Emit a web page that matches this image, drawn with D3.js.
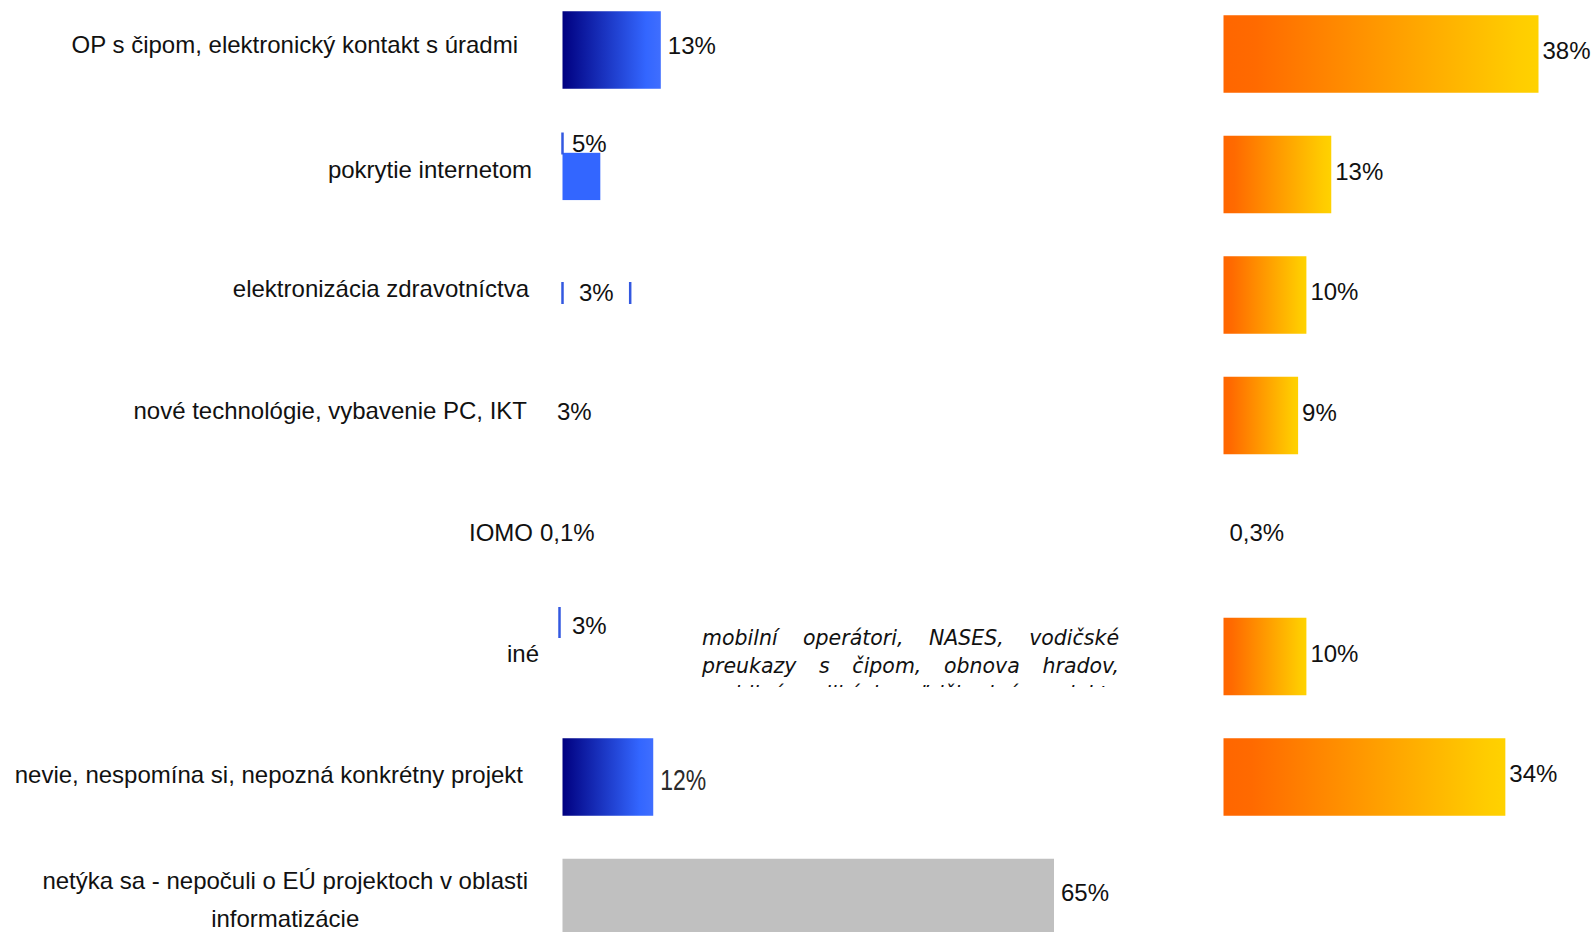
<!DOCTYPE html>
<head>
    <meta charset="utf-8">
    <script src="https://d3js.org/d3.v7.min.js"></script>
    <style>
      body { margin: 0; background: white; }
      text {
        font-family: "Liberation Sans", Arial, sans-serif;
        fill: #111;
      }
      .catlabel { font-size: 24px; }
      .vallabel { font-size: 24px; }
      .note {
        font-family: "DejaVu Sans", sans-serif;
        font-style: italic;
        font-size: 20.5px;
      }
    </style>
<body>
    <script>
        // data
        var categories = [
          "OP s čipom, elektronický kontakt s úradmi",
          "pokrytie internetom",
          "elektronizácia zdravotníctva",
          "nové technológie, vybavenie PC, IKT",
          "IOMO",
          "iné",
          "nevie, nespomína si, nepozná konkrétny projekt",
          "netýka sa - nepočuli o EÚ projektoch v oblasti\ninformatizácie"
        ]
        var valuesBlue = [13, 5, 3, 3, 0.1, 3, 12, 65]
        var labelsBlue = ["13%", "5%", "3%", "3%", "0,1%", "3%", "12%", "65%"]
        var valuesOrange = [38, 13, 10, 9, 0.3, 10, 34, null]
        var labelsOrange = ["38%", "13%", "10%", "9%", "0,3%", "10%", "34%", ""]
        var noteLines = [
          "mobilní operátori, NASES, vodičské",
          "preukazy s čipom, obnova hradov,",
          "mobilné aplikácie, ďalšie iné projekty"
        ]

        // layout of the left column, row by row (how the source slide renders it)
        var leftLayout = [
          {bar: "grad", by: -4, lx: "end", ly: -8, nx: -12, ny: -9},
          {bar: "part", lx: 9.5, ly: -31, ticks: "left", t0: -11, t1: 11, nx: 2, ny: -5},
          {bar: null, lx: 16.5, ly: -2, ticks: "both", t0: -11, t1: 11, nx: -1, ny: -6},
          {bar: null, lx: -5.5, ly: -3.5, nx: -3, ny: -4.5},
          {bar: null, lx: -22.5, ly: -3, nx: 3, ny: -3},
          {bar: null, lx: 9.5, ly: -30.5, ticks: "left", tx: -3, t0: -19, t1: 12, nx: 9, ny: -2.5},
          {bar: "grad", lx: "end", ly: 2, raster: true, nx: -7, ny: -2},
          {bar: "gray", lx: "end", ly: -5, nx: -2, ny: -16.5}
        ]

        var svg_w = 1592
        var svg_h = 932
        var svg = d3.select("body")
          .append("svg")
          .attr("width", svg_w)
          .attr("height", svg_h)

        svg.append("rect")
          .attr("width", svg_w)
          .attr("height", svg_h)
          .attr("fill", "white")

        var defs = svg.append("defs")
        var blueGrad = defs.append("linearGradient").attr("id", "blueGrad")
        blueGrad.append("stop").attr("offset", 0).attr("stop-color", "#000080")
        blueGrad.append("stop").attr("offset", 0.85).attr("stop-color", "#3366ff")
        blueGrad.append("stop").attr("offset", 1).attr("stop-color", "#3f6eff")
        var orangeGrad = defs.append("linearGradient").attr("id", "orangeGrad")
        orangeGrad.append("stop").attr("offset", 0).attr("stop-color", "#ff6600")
        orangeGrad.append("stop").attr("offset", 0.1).attr("stop-color", "#ff6a00")
        orangeGrad.append("stop").attr("offset", 0.93).attr("stop-color", "#ffcc00")
        orangeGrad.append("stop").attr("offset", 1).attr("stop-color", "#ffd200")
        defs.append("clipPath").attr("id", "noteClip")
          .append("rect")
          .attr("x", 680).attr("y", 600)
          .attr("width", 470).attr("height", 87)

        var idx = d3.range(categories.length)
        var y = d3.scaleBand()
          .domain(idx)
          .range([-6.25, 957.75])
          .paddingInner(0.3568)
          .paddingOuter(0.1784)
        var bw = y.bandwidth()
        function yc(i) { return y(i) + bw / 2 }

        var xL = d3.scaleLinear().domain([0, 65]).range([562.5, 1054])
        var xR = d3.scaleLinear().domain([0, 38]).range([1223.5, 1538.5])

        // category labels
        var catX = 530
        idx.forEach(function(i) {
          var lines = categories[i].split("\n")
          var L = leftLayout[i]
          var first = svg.append("text")
            .classed("catlabel", true)
            .attr("x", catX + L.nx)
            .attr("y", yc(i) + L.ny)
            .attr("dy", "0.35em")
            .attr("text-anchor", "end")
            .text(lines[0])
          if (lines.length > 1) {
            var w = first.node().getComputedTextLength()
            svg.append("text")
              .classed("catlabel", true)
              .attr("x", catX + L.nx - w / 2)
              .attr("y", yc(i) + L.ny + 38)
              .attr("dy", "0.35em")
              .attr("text-anchor", "middle")
              .text(lines[1])
          }
        })

        // left bars
        var leftG = svg.append("g")
        idx.forEach(function(i) {
          var L = leftLayout[i]
          var v = valuesBlue[i]
          var by = L.by || 0
          if (L.bar == "grad" || L.bar == "gray") {
            leftG.append("rect")
              .attr("x", xL(0))
              .attr("y", y(i) + by)
              .attr("width", xL(v) - xL(0))
              .attr("height", L.bar == "gray" ? bw + 20 : bw)
              .attr("fill", L.bar == "gray" ? "#c0c0c0" : "url(#blueGrad)")
          } else if (L.bar == "part") {
            leftG.append("rect")
              .attr("x", xL(0))
              .attr("y", y(i) + bw * 0.22)
              .attr("width", xL(v) - xL(0))
              .attr("height", bw * 0.61)
              .attr("fill", "#3366ff")
          }
          var lx = L.lx == "end" ? xL(v) + 7 : xL(0) + L.lx
          var ly = yc(i) + L.ly
          var lab = leftG.append("text")
            .classed("vallabel", true)
            .attr("x", lx)
            .attr("y", ly)
            .attr("dy", "0.35em")
            .text(labelsBlue[i])
          if (L.raster) {
            lab.attr("textLength", 46)
              .attr("lengthAdjust", "spacingAndGlyphs")
              .style("fill", "#2a2a2a")
              .style("font-size", "30px")
          }
          if (L.ticks) {
            var tx = [xL(0) + (L.tx || 0)]
            if (L.ticks == "both") {
              tx.push(lx + lab.node().getComputedTextLength() + (lx - xL(0)))
            }
            tx.forEach(function(t) {
              leftG.append("line")
                .attr("x1", t).attr("x2", t)
                .attr("y1", ly + L.t0).attr("y2", ly + L.t1)
                .attr("stroke", "#3358e0")
                .attr("stroke-width", 2.5)
            })
          }
        })

        // right bars
        var rightG = svg.append("g")
        var rightData = idx.filter(function(i) { return valuesOrange[i] != null })
        rightG.selectAll(".rbar")
          .data(rightData.filter(function(i) { return valuesOrange[i] >= 1 }))
          .enter()
          .append("rect")
          .classed("rbar", true)
          .attr("x", xR(0))
          .attr("y", function(i) { return y(i) })
          .attr("width", function(i) { return xR(valuesOrange[i]) - xR(0) })
          .attr("height", bw)
          .attr("fill", "url(#orangeGrad)")
        rightG.selectAll(".rlab")
          .data(rightData)
          .enter()
          .append("text")
          .classed("vallabel", true)
          .attr("x", function(i) { return valuesOrange[i] >= 1 ? xR(valuesOrange[i]) + 4 : xR(0) + 6 })
          .attr("y", function(i) { return yc(i) - 3 })
          .attr("dy", "0.35em")
          .text(function(i) { return labelsOrange[i] })

        // italic note next to "iné", justified and cut off at the bottom
        var noteG = svg.append("g")
          .classed("note", true)
          .attr("clip-path", "url(#noteClip)")
        var noteX0 = 702, noteX1 = 1119, noteY = 645, noteLead = 28
        noteLines.forEach(function(line, k) {
          var words = line.split(" ")
          var nodes = words.map(function(w) {
            return noteG.append("text")
              .attr("class", "note")
              .attr("y", noteY + k * noteLead)
              .text(w)
          })
          var widths = nodes.map(function(n) { return n.node().getComputedTextLength() })
          var gap = (noteX1 - noteX0 - d3.sum(widths)) / (words.length - 1)
          var x = noteX0
          nodes.forEach(function(n, j) {
            n.attr("x", x)
            x += widths[j] + gap
          })
        })
    </script>
</body>
